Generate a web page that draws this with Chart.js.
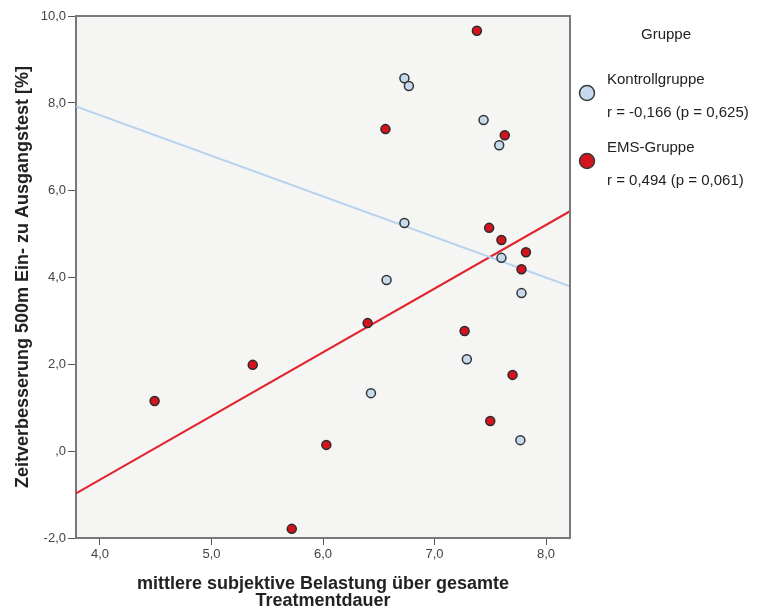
<!DOCTYPE html>
<html>
<head>
<meta charset="utf-8">
<script src="https://cdn.jsdelivr.net/npm/chart.js@4.4.0/dist/chart.umd.min.js"></script>
<style>
  html, body { margin: 0; padding: 0; background: #fff; }
</style>
</head>
<body>
<canvas id="chart" width="761" height="610"></canvas>
<script>
// axis setup
const xTicks = [4, 5, 6, 7, 8];
const yTicks = [-2, 0, 2, 4, 6, 8, 10];
const xRange = [3.785, 8.215];
const yRange = [-2, 10];

// Kontrollgruppe
const kontrollX = [6.73, 6.77, 7.44, 7.58, 6.73, 7.60, 6.57, 7.78, 7.29, 6.43, 7.77];
const kontrollY = [8.57, 8.39, 7.61, 7.03, 5.24, 4.44, 3.93, 3.63, 2.11, 1.33, 0.25];

// EMS-Gruppe
const emsX = [7.38, 6.56, 7.63, 7.49, 7.60, 7.82, 7.78, 6.40, 7.27, 7.70, 7.50, 5.37, 4.49, 6.03, 5.72];
const emsY = [9.66, 7.40, 7.26, 5.13, 4.85, 4.57, 4.18, 2.94, 2.76, 1.75, 0.69, 1.98, 1.15, 0.14, -1.79];

const legendTitle = 'Gruppe';
const groupNames = ['Kontrollgruppe', 'EMS-Gruppe'];
const groupStats = ['r = -0,166 (p = 0,625)', 'r = 0,494 (p = 0,061)'];

const blueFill = '#c5daee';
const blueLine = '#b7d4ee';
const redFill = '#d3141e';
const redLine = '#e2222c';

function toPoints(xs, ys) {
  return xs.map((x, i) => ({ x: x, y: ys[i] }));
}

// least squares fit line across the whole x range
function fitLine(xs, ys) {
  const n = xs.length;
  const mx = xs.reduce((a, b) => a + b, 0) / n;
  const my = ys.reduce((a, b) => a + b, 0) / n;
  let sxy = 0, sxx = 0;
  for (let i = 0; i < n; i++) {
    sxy += (xs[i] - mx) * (ys[i] - my);
    sxx += (xs[i] - mx) * (xs[i] - mx);
  }
  const b = sxy / sxx;
  const a = my - b * mx;
  return xRange.map(x => ({ x: x, y: a + b * x }));
}

function fmt(v) {
  if (v === 0) return ',0';
  return v.toFixed(1).replace('.', ',');
}

const FONT = '"Liberation Sans", Arial, sans-serif';

const plotBg = {
  id: 'plotBg',
  beforeDraw(chart) {
    const { ctx, chartArea: a } = chart;
    ctx.save();
    ctx.fillStyle = '#f5f5f4';
    ctx.fillRect(a.left, a.top, a.right - a.left, a.bottom - a.top);
    ctx.restore();
  },
  afterDraw(chart) {
    const { ctx, chartArea: a } = chart;
    ctx.save();
    ctx.strokeStyle = '#7a7a7a';
    ctx.lineWidth = 2;
    ctx.beginPath();
    ctx.moveTo(a.left, a.top);
    ctx.lineTo(a.right, a.top);
    ctx.lineTo(a.right, a.bottom);
    ctx.stroke();
    ctx.restore();
  }
};

const sideLegend = {
  id: 'sideLegend',
  afterDraw(chart) {
    const ctx = chart.ctx;
    ctx.save();
    ctx.fillStyle = '#222';
    ctx.font = '15px ' + FONT;
    ctx.textBaseline = 'middle';
    ctx.textAlign = 'center';
    ctx.fillText(legendTitle, 666, 35);
    ctx.textAlign = 'left';
    const fills = [blueFill, redFill];
    const tops = [80, 148];
    for (let i = 0; i < groupNames.length; i++) {
      const y = tops[i];
      ctx.fillStyle = '#222';
      ctx.fillText(groupNames[i], 607, y);
      ctx.fillText(groupStats[i], 607, y + 33);
      ctx.beginPath();
      ctx.arc(587, y + 13, 7.5, 0, Math.PI * 2);
      ctx.fillStyle = fills[i];
      ctx.fill();
      ctx.lineWidth = 1.5;
      ctx.strokeStyle = '#3a3a3a';
      ctx.stroke();
    }
    ctx.restore();
  }
};

const ctx = document.getElementById('chart');
const chart = new Chart(ctx, {
  type: 'scatter',
  data: {
    datasets: [
      {
        label: groupNames[0],
        data: toPoints(kontrollX, kontrollY),
        backgroundColor: blueFill,
        borderColor: '#333',
        borderWidth: 1.5,
        pointRadius: 4.5,
        order: 1
      },
      {
        label: groupNames[1],
        data: toPoints(emsX, emsY),
        backgroundColor: redFill,
        borderColor: '#2a2a2a',
        borderWidth: 1.5,
        pointRadius: 4.5,
        order: 1
      },
      {
        label: 'fit ' + groupNames[0],
        data: fitLine(kontrollX, kontrollY),
        showLine: true,
        borderColor: blueLine,
        borderWidth: 2,
        pointRadius: 0,
        order: 2
      },
      {
        label: 'fit ' + groupNames[1],
        data: fitLine(emsX, emsY),
        showLine: true,
        borderColor: redLine,
        borderWidth: 2,
        pointRadius: 0,
        order: 2
      }
    ]
  },
  options: {
    responsive: false,
    animation: false,
    devicePixelRatio: 1,
    layout: { padding: { top: 16, right: 191, left: 0, bottom: 0 } },
    plugins: {
      legend: { display: false },
      tooltip: { enabled: false }
    },
    scales: {
      x: {
        type: 'linear',
        min: xRange[0],
        max: xRange[1],
        afterFit(scale) { scale.height = 72; },
        afterBuildTicks(scale) { scale.ticks = xTicks.map(v => ({ value: v })); },
        grid: { drawOnChartArea: false, drawTicks: true, tickLength: 7, color: '#555' },
        border: { display: true, color: '#777', width: 2 },
        ticks: {
          padding: 2,
          color: '#444',
          font: { family: FONT, size: 13 },
          callback: v => fmt(v)
        },
        title: {
          display: true,
          text: ['mittlere subjektive Belastung über gesamte', 'Treatmentdauer'],
          color: '#222',
          font: { family: FONT, size: 18, weight: 'bold', lineHeight: 0.945 },
          padding: { top: 0, bottom: 0 }
        }
      },
      y: {
        type: 'linear',
        min: yRange[0],
        max: yRange[1],
        afterFit(scale) { scale.width = 76; },
        afterBuildTicks(scale) { scale.ticks = yTicks.map(v => ({ value: v })); },
        grid: { drawOnChartArea: false, drawTicks: true, tickLength: 8, color: '#555' },
        border: { display: true, color: '#777', width: 2 },
        ticks: {
          padding: 2,
          color: '#444',
          font: { family: FONT, size: 13 },
          callback: v => fmt(v)
        },
        title: {
          display: true,
          text: 'Zeitverbesserung 500m Ein- zu Ausgangstest [%]',
          color: '#222',
          font: { family: FONT, size: 18, weight: 'bold', lineHeight: 0.945 },
          padding: { top: 15, bottom: 0 }
        }
      }
    }
  },
  plugins: [plotBg, sideLegend]
});
</script>
</body>
</html>
